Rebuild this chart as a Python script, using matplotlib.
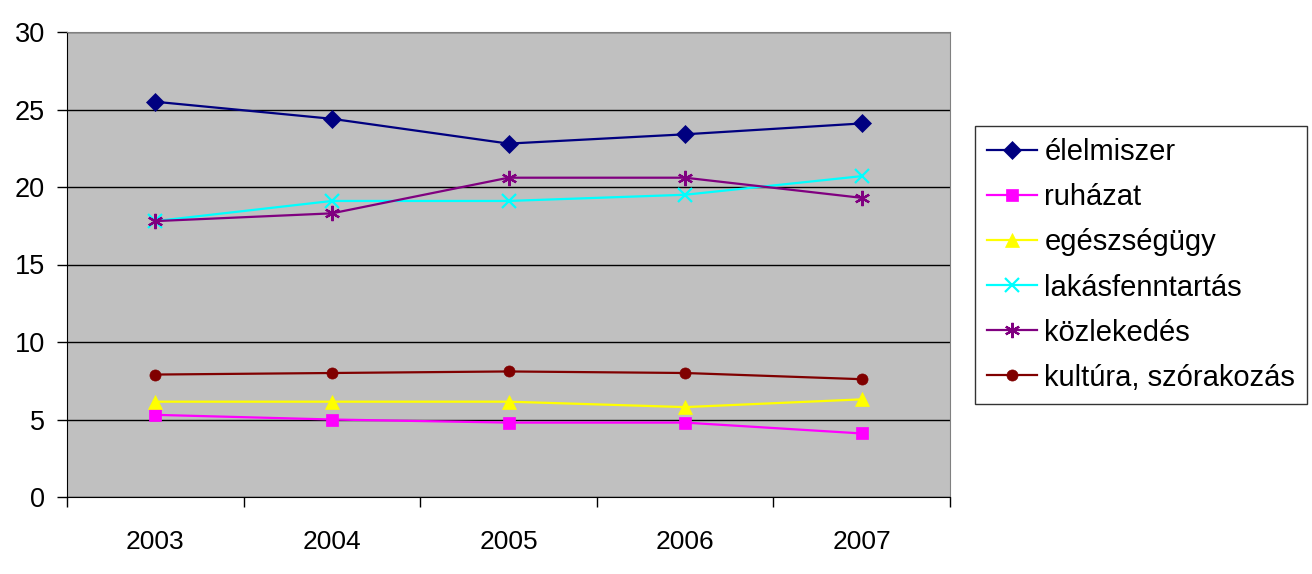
import matplotlib
matplotlib.use('Agg')
import matplotlib.pyplot as plt
import numpy as np

plt.rcParams['font.family'] = ['Liberation Sans', 'DejaVu Sans']

years = ['2003', '2004', '2005', '2006', '2007']

elelmiszer = [25.5, 24.4, 22.8, 23.4, 24.1]
ruhazat = [5.3, 5.0, 4.8, 4.8, 4.1]
egeszsegugy = [6.15, 6.15, 6.15, 5.8, 6.3]
lakasfenntartas = [17.8, 19.1, 19.1, 19.5, 20.7]
kozlekedes = [17.8, 18.3, 20.6, 20.6, 19.3]
kultura = [7.9, 8.0, 8.1, 8.0, 7.6]

series = [
    ('élelmiszer', elelmiszer, '#000080', 'D', 9),
    ('ruházat', ruhazat, '#FF00FF', 's', 8),
    ('egészségügy', egeszsegugy, '#FFFF00', '^', 10),
    ('lakásfenntartás', lakasfenntartas, '#00FFFF', 'x', 10),
    ('közlekedés', kozlekedes, '#800080', (6, 2, 0), 11),
    ('kultúra, szórakozás', kultura, '#800000', 'o', 8),
]

fig = plt.figure(figsize=(13.12, 5.74), dpi=100)
ax = fig.add_axes([67 / 1312, 1 - 497 / 574, 883 / 1312, 465 / 574])
ax.set_facecolor('#C0C0C0')

x = np.arange(len(years))
for name, vals, col, mk, ms in series:
    ax.plot(x, vals, color=col, marker=mk, markersize=ms, linewidth=1.6,
            markeredgewidth=1.6 if mk in ('x', (6, 2, 0)) else 0.5,
            markeredgecolor=col, label=name)

ax.set_xlim(-0.5, 4.5)
ax.set_ylim(0, 30)
ax.set_yticks(range(0, 31, 5))
ax.yaxis.grid(True, color='black', linewidth=1)
ax.set_axisbelow(True)

ax.set_xticks(np.arange(-0.5, 5, 1))
ax.set_xticklabels([])
ax.set_xticks(x, minor=True)
ax.set_xticklabels(years, minor=True)
ax.tick_params(axis='x', which='minor', length=0, pad=24, labelsize=19)
ax.tick_params(axis='x', which='major', length=7, direction='out', width=1)
ax.tick_params(axis='y', length=7, direction='out', width=1, labelsize=19.5, pad=9)

for s in ['top', 'right']:
    ax.spines[s].set_color('#808080')
ax.spines['left'].set_color('black')
ax.spines['bottom'].set_color('black')

leg = ax.legend(loc='center left', bbox_to_anchor=(975 / 1312, 1 - 265 / 574),
                bbox_transform=fig.transFigure, frameon=True, fancybox=False,
                edgecolor='black', fontsize=21, handlelength=1.72,
                labelspacing=0.585, borderpad=0.41, handletextpad=0.25,
                borderaxespad=0)
leg.get_frame().set_linewidth(1)

fig.savefig('out.png', dpi=100)
